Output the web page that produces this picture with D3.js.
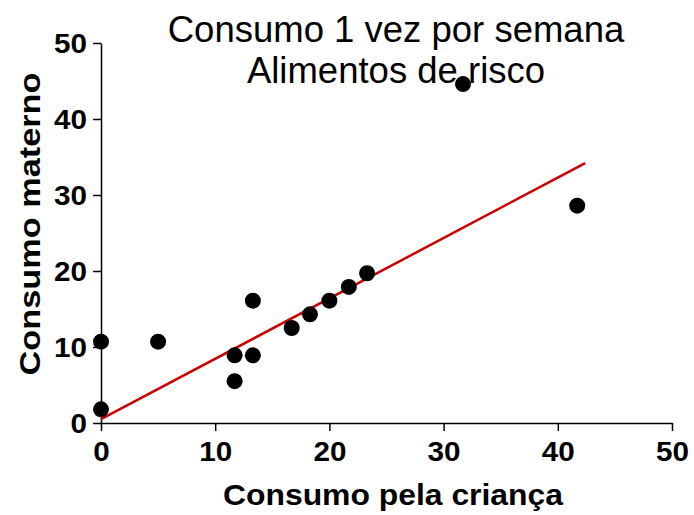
<!DOCTYPE html>
<html>
<head>
<meta charset="utf-8">
<script src="https://cdn.jsdelivr.net/npm/d3@7"></script>
<style>
	body { margin: 0; background: #fff; }
	svg { display: block; font-family: "Liberation Sans", Arial, sans-serif; }
</style>
</head>
<body>
<div id="graph"></div>
<script>
// values
var childX = [0, 0, 5, 11.7, 11.7, 13.3, 13.3, 16.7, 18.3, 20, 21.7, 23.3, 31.7, 41.7];
var motherY = [10.7, 1.8, 10.7, 8.9, 5.5, 16.1, 8.9, 12.5, 14.3, 16.1, 17.9, 19.7, 44.6, 28.6];
var fitX = [0, 42.4];
var fitY = [0.5, 34.2];
var tickValues = [0, 10, 20, 30, 40, 50];
var titleLines = ["Consumo 1 vez por semana", "Alimentos de risco"];

var width = 694, height = 515;
var canvas = d3.select("#graph").append("svg")
	.attr("width", width)
	.attr("height", height);

var x = d3.scaleLinear().domain([0, 50]).range([101, 672]);
var y = d3.scaleLinear().domain([0, 50]).range([423, 43]);

// axes
var xAxis = canvas.append("g")
	.attr("transform", "translate(0," + y(0) + ")")
	.call(d3.axisBottom(x).tickValues(tickValues).tickSize(8).tickPadding(6).tickSizeOuter(0));
var yAxis = canvas.append("g")
	.attr("transform", "translate(" + x(0) + ",0)")
	.call(d3.axisLeft(y).tickValues(tickValues).tickSize(8).tickPadding(6).tickSizeOuter(0));

[xAxis, yAxis].forEach(function (g) {
	g.select(".domain").attr("stroke", "#000").attr("stroke-width", 1.5);
	g.selectAll(".tick line").attr("stroke", "#000").attr("stroke-width", 1.5);
	g.selectAll(".tick text")
		.attr("fill", "#000")
		.attr("font-size", "27px")
		.attr("font-weight", "bold")
		.attr("font-family", "'Liberation Sans', Arial, sans-serif")
		// the original digits are a bit wider than the font
		.attr("textLength", function (d) { return String(d).length * 16.5; })
		.attr("lengthAdjust", "spacingAndGlyphs");
});
xAxis.selectAll(".tick text").attr("dy", "0.9em");
yAxis.selectAll(".tick text").attr("dy", "0.36em");

// regression line
canvas.append("line")
	.attr("x1", x(fitX[0]))
	.attr("y1", y(fitY[0]))
	.attr("x2", x(fitX[1]))
	.attr("y2", y(fitY[1]))
	.attr("stroke", "#cc0000")
	.attr("stroke-width", 2.5);

// points
canvas.selectAll("circle.pt").data(childX)
	.enter().append("circle")
	.attr("class", "pt")
	.attr("cx", function (d) { return x(d); })
	.attr("cy", function (d, i) { return y(motherY[i]); })
	.attr("r", 8)
	.attr("fill", "#000");

// title
canvas.selectAll("text.title").data(titleLines)
	.enter().append("text")
	.attr("class", "title")
	.attr("x", 396)
	.attr("y", function (d, i) { return 42 + i * 41; })
	.attr("text-anchor", "middle")
	.attr("font-size", "36.5px")
	.text(function (d) { return d; });

// axis titles
canvas.append("text")
	.attr("x", 393)
	.attr("y", 505)
	.attr("text-anchor", "middle")
	.attr("font-size", "30px")
	.attr("font-weight", "bold")
	.attr("textLength", 340)
	.attr("lengthAdjust", "spacingAndGlyphs")
	.text("Consumo pela criança");
canvas.append("text")
	.attr("transform", "translate(40,224) rotate(-90)")
	.attr("text-anchor", "middle")
	.attr("font-size", "30px")
	.attr("font-weight", "bold")
	.attr("textLength", 303)
	.attr("lengthAdjust", "spacingAndGlyphs")
	.text("Consumo materno");
</script>
</body>
</html>
